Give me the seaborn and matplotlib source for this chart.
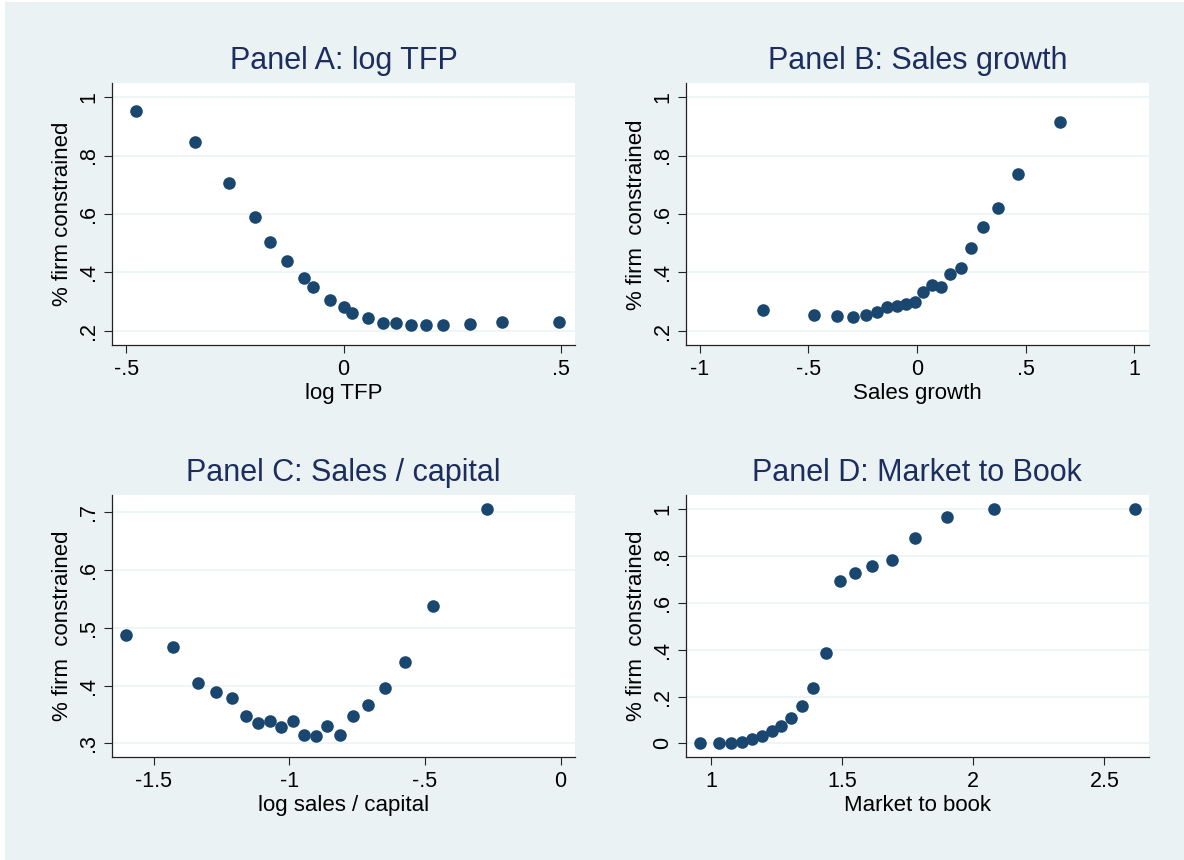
import numpy as np
import pandas as pd
import matplotlib
matplotlib.use("Agg")
import matplotlib.pyplot as plt
from matplotlib.patches import Rectangle
from matplotlib.ticker import FuncFormatter, FixedLocator
import seaborn as sns

# ---- binned data: share of constrained firms by covariate bin ----
tfp_x = [-0.477, -0.342, -0.265, -0.205, -0.170, -0.130, -0.091, -0.071, -0.031, 0.000,
         0.019, 0.055, 0.090, 0.121, 0.154, 0.190, 0.229, 0.291, 0.365, 0.496]
tfp_y = [0.952, 0.845, 0.706, 0.589, 0.505, 0.439, 0.380, 0.352, 0.306, 0.282,
         0.262, 0.246, 0.228, 0.227, 0.222, 0.219, 0.219, 0.223, 0.231, 0.232]

growth_x = [-0.708, -0.474, -0.370, -0.296, -0.235, -0.183, -0.136, -0.091, -0.051, -0.009,
            0.030, 0.070, 0.113, 0.153, 0.202, 0.251, 0.305, 0.373, 0.466, 0.659]
growth_y = [0.273, 0.256, 0.251, 0.249, 0.256, 0.264, 0.282, 0.285, 0.292, 0.298,
            0.334, 0.357, 0.350, 0.394, 0.415, 0.485, 0.556, 0.620, 0.738, 0.913]

salescap_x = [-1.603, -1.428, -1.338, -1.270, -1.213, -1.161, -1.115, -1.071, -1.029, -0.988,
              -0.945, -0.903, -0.861, -0.814, -0.765, -0.710, -0.648, -0.573, -0.471, -0.270]
salescap_y = [0.488, 0.467, 0.404, 0.389, 0.379, 0.348, 0.335, 0.338, 0.329, 0.339,
              0.314, 0.313, 0.330, 0.314, 0.347, 0.367, 0.395, 0.440, 0.537, 0.705]

mtb_x = [0.957, 1.029, 1.075, 1.116, 1.155, 1.192, 1.230, 1.267, 1.305, 1.347,
         1.390, 1.436, 1.490, 1.549, 1.614, 1.689, 1.779, 1.899, 2.079, 2.616]
mtb_y = [0.000, 0.000, 0.001, 0.007, 0.019, 0.031, 0.051, 0.075, 0.110, 0.160,
         0.238, 0.387, 0.692, 0.729, 0.756, 0.785, 0.879, 0.967, 1.000, 1.000]

titles = ["Panel A: log TFP", "Panel B: Sales growth",
          "Panel C: Sales / capital", "Panel D: Market to Book"]
xlabels = ["log TFP", "Sales growth", "log sales / capital", "Market to book"]
ylabels = ["% firm constrained", "% firm  constrained",
           "% firm  constrained", "% firm  constrained"]
xticks = [[-0.5, 0, 0.5], [-1, -0.5, 0, 0.5, 1], [-1.5, -1, -0.5, 0], [1, 1.5, 2, 2.5]]
yticks = [[0.2, 0.4, 0.6, 0.8, 1.0], [0.2, 0.4, 0.6, 0.8, 1.0],
          [0.3, 0.4, 0.5, 0.6, 0.7], [0, 0.2, 0.4, 0.6, 0.8, 1.0]]

# ---- styling ----
sns.set_theme(style="white")
plt.rcParams["font.family"] = ["Liberation Sans", "DejaVu Sans"]

BG = "#EAF2F3"
NAVY = "#1a476f"
TITLE_C = "#1c2d5e"
AXIS_C = "#222222"


def stata_fmt(v, _pos=None):
    s = f"{v:g}"
    if s.startswith("0.") and len(s) > 2:
        s = s[1:]
    elif s.startswith("-0."):
        s = "-" + s[2:]
    return s


fig = plt.figure(figsize=(11.84, 8.6), dpi=100, facecolor="white")
fig.patches.append(Rectangle((5 / 1184, 0), 1 - 5 / 1184, 1 - 2 / 860,
                             transform=fig.transFigure, facecolor=BG,
                             edgecolor="none", zorder=-10))

W, H = 1184, 860
boxes = [  # left, right, top, bottom in pixels
    (111.7, 575.2, 83.3, 345.3),
    (685.8, 1148.7, 83.3, 345.3),
    (111.7, 575.2, 495.0, 757.0),
    (685.8, 1148.7, 495.0, 757.0),
]
xlims = [(-0.534, 0.533), (-1.064, 1.067), (-1.655, 0.054), (0.903, 2.669)]
ylims = [(0.151, 1.047), (0.151, 1.047), (0.2763, 0.730), (-0.058, 1.061)]

panels = [(tfp_x, tfp_y), (growth_x, growth_y), (salescap_x, salescap_y), (mtb_x, mtb_y)]

for i, ((xs, ys), (l, r, t, b)) in enumerate(zip(panels, boxes)):
    ax = fig.add_axes([l / W, 1 - b / H, (r - l) / W, (b - t) / H])
    ax.set_facecolor("white")
    df = pd.DataFrame({"x": xs, "y": ys})
    sns.scatterplot(data=df, x="x", y="y", ax=ax, s=82, color=NAVY,
                    linewidth=0, zorder=3)
    ax.set_xlim(*xlims[i])
    ax.set_ylim(*ylims[i])
    ax.xaxis.set_major_locator(FixedLocator(xticks[i]))
    ax.yaxis.set_major_locator(FixedLocator(yticks[i]))
    ax.xaxis.set_major_formatter(FuncFormatter(stata_fmt))
    ax.yaxis.set_major_formatter(FuncFormatter(stata_fmt))
    for yv in yticks[i]:
        ax.axhline(yv, color=BG, lw=1.1, zorder=1)
    for side in ("top", "right"):
        ax.spines[side].set_visible(False)
    for side in ("left", "bottom"):
        ax.spines[side].set_color(AXIS_C)
        ax.spines[side].set_linewidth(0.9)
    ax.tick_params(axis="both", direction="out", length=6, width=0.8,
                   color=AXIS_C, labelsize=15.5, labelcolor="black",
                   left=True, bottom=True)
    ax.tick_params(axis="x", pad=4)
    ax.tick_params(axis="y", pad=3)
    for lab in ax.get_yticklabels():
        lab.set_rotation(90)
        lab.set_va("center")
    ax.set_xlabel(xlabels[i], fontsize=16, color="black", labelpad=2)
    ax.set_ylabel(ylabels[i], fontsize=16, color="black", labelpad=4)
    ax.set_title(titles[i], fontsize=22, color=TITLE_C, pad=10)

fig.savefig("out.png", dpi=100, facecolor=fig.get_facecolor())
